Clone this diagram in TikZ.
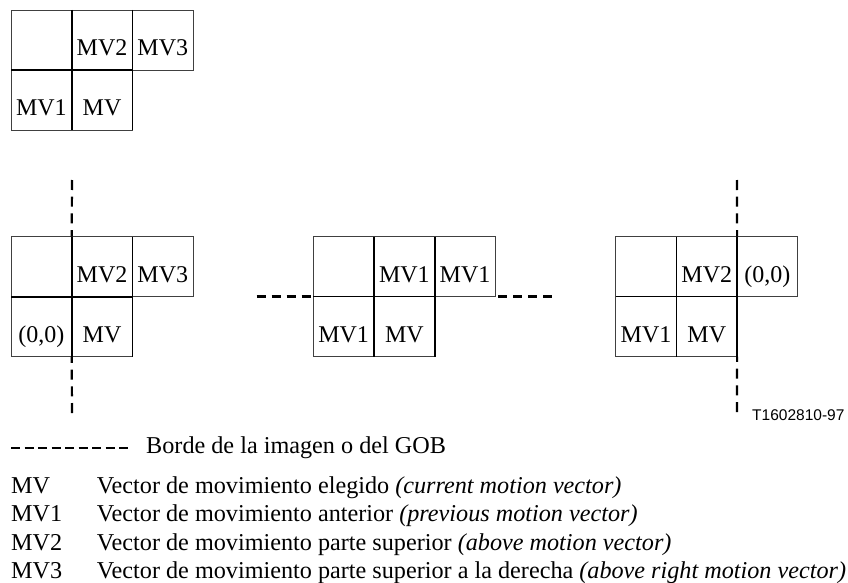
\documentclass[tikz,border=0pt]{standalone}
\usepackage{fontspec}
\setmainfont{Liberation Serif}
\newfontfamily\codesans{Liberation Sans}

% One block of five macroblock cells: three on top, two below.
% #1 name prefix, #2 #3 top-left corner, #4..#8 texts (top left, top middle,
% top right, bottom left, bottom middle)
\newcommand\mvgroup[8]{%
  \node[cellbox] (#1tl) at (#2+30.35, #3+30) {};
  \node[cellbox] (#1tm) at (#2+91.05, #3+30) {};
  \node[cellbox] (#1tr) at (#2+151.75, #3+30) {};
  \node[cellbox] (#1bl) at (#2+30.35, #3+90) {};
  \node[cellbox] (#1bm) at (#2+91.05, #3+90) {};
  \draw[divider] (#1tl.north east) -- (#1bl.south east);
  \draw[divider] (#1tm.north east) -- (#1bm.south east);
  \draw[divider] (#1tl.south west) -- (#1tm.south east);
  \node[celltext] (#1tlt) at ([yshift=14.5pt]#1tl.south) {#4};
  \node[celltext] (#1tmt) at ([yshift=14.5pt]#1tm.south) {#5};
  \node[celltext] (#1trt) at ([yshift=14.5pt]#1tr.south) {#6};
  \node[celltext] (#1blt) at ([yshift=14.5pt]#1bl.south) {#7};
  \node[celltext] (#1bmt) at ([yshift=14.5pt]#1bm.south) {#8};
}

\begin{document}
\begin{tikzpicture}[x=1pt,y=-1pt,
  cellbox/.style={draw=black!75, line width=0.9pt, minimum width=60.7pt,
    minimum height=60pt, inner sep=0pt, outer sep=0pt},
  divider/.style={line width=1.8pt},
  gobedge/.style={line width=2.2pt, dash pattern=on 10pt off 6.7pt},
  gobedgeh/.style={line width=2.2pt, dash pattern=on 9pt off 6pt},
  keyedge/.style={line width=2pt, dash pattern=on 9pt off 4.5pt},
  celltext/.style={font=\fontsize{24}{28}\selectfont, anchor=base, inner sep=0pt},
  legendtext/.style={font=\fontsize{24.2}{28}\selectfont, anchor=base west, inner sep=0pt}]
\useasboundingbox (0,0) rectangle (848,583);

% neighbourhood of the current macroblock
\mvgroup{a}{11}{10}{}{MV2}{MV3}{MV1}{MV}

% special cases at picture / GOB borders
\mvgroup{b}{11}{236.7}{}{MV2}{MV3}{(0,0)}{MV}
\mvgroup{c}{313.3}{236.5}{}{MV1}{MV1}{MV1}{MV}
\mvgroup{d}{615.7}{236.5}{}{MV2}{(0,0)}{MV1}{MV}

% borders, each dashed from its free end towards the block
\coordinate (bup) at (72,180);
\coordinate (bdn) at (72,413);
\draw[gobedge] (bup) -- (btl.north east);
\draw[gobedge] (bdn) -- (bbl.south east);

\coordinate (cl) at (256.7,296.5);
\coordinate (cr) at (551.7,296.5);
\draw[gobedgeh] (cl) -- (cbl.north west);
\draw[gobedgeh] (cr) -- (ctr.south east);

\coordinate (dup) at (737,180);
\coordinate (ddn) at (737,412);
\draw[gobedge] (dup) -- (dtr.north west);
\draw[gobedge] (ddn) -- (dbm.south east);

\node[font=\codesans\fontsize{15.5}{18}\selectfont, anchor=base west, inner sep=0pt]
  (code) at (752,420) {T1602810-97};

% legend
\coordinate (ks) at (11,448);
\coordinate (ke) at (128,448);
\draw[keyedge] (ks) -- (ke);
\node[legendtext] (kt) at (146,453) {Borde de la imagen o del GOB};

\node[legendtext] (k0) at (11,493.3) {MV};
\node[legendtext] (k0t) at (96.7,493.3) {Vector de movimiento elegido \textit{(current motion vector)}};
\node[legendtext] (k1) at (11,521.7) {MV1};
\node[legendtext] (k1t) at (96.7,521.7) {Vector de movimiento anterior \textit{(previous motion vector)}};
\node[legendtext] (k2) at (11,550) {MV2};
\node[legendtext] (k2t) at (96.7,550) {Vector de movimiento parte superior \textit{(above motion vector)}};
\node[legendtext] (k3) at (11,578.3) {MV3};
\node[legendtext] (k3t) at (96.7,578.3) {Vector de movimiento parte superior a la derecha \textit{(above right motion vector)}};
\end{tikzpicture}
\end{document}
